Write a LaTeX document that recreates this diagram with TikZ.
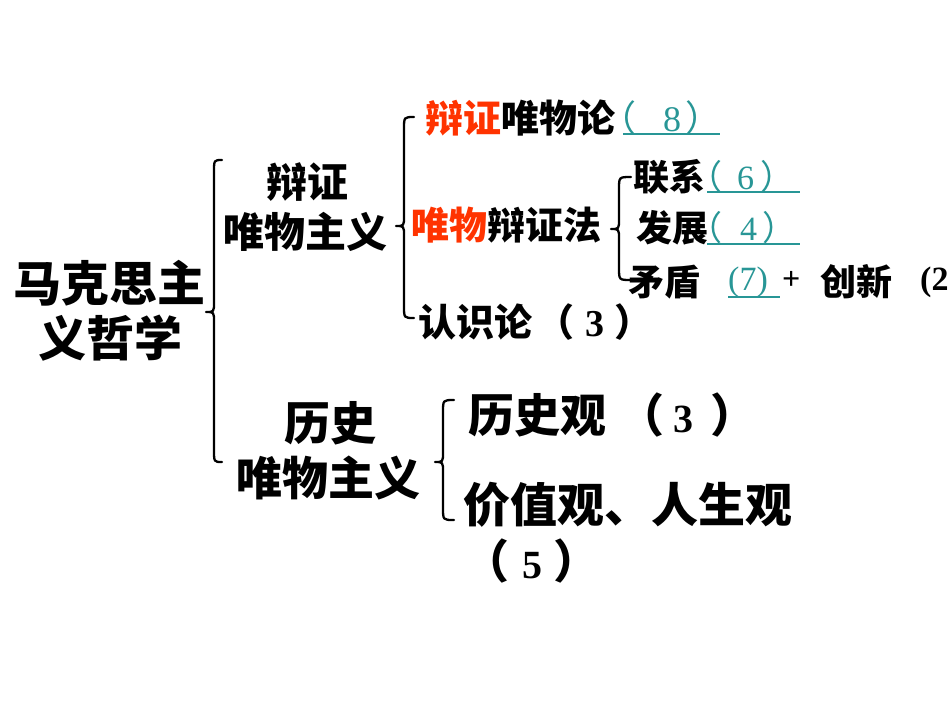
\documentclass[tikz,border=0pt]{standalone}
\usepackage{fontspec}
\newfontfamily\cjk{Noto Sans CJK SC}
\newfontfamily\ser{Liberation Serif}
\definecolor{hot}{RGB}{255,51,0}
\definecolor{tealc}{RGB}{40,150,150}
\newcommand\fsz[1]{\fontsize{#1}{#1}\selectfont}
\tikzset{
  txt/.style={inner sep=0pt, anchor=west, font=\cjk\bfseries},
  ctxt/.style={inner sep=0pt, anchor=center, font=\cjk\bfseries},
  brace/.style={line width=2.3pt, black, line cap=round, line join=round},
  uline/.style={line width=1.5pt, tealc},
}
\newcommand\bracepath[6]{% xl xm xr ytop ymid ybot
  \draw[brace] (#3,#4) .. controls (#2,#4) .. (#2,#4+12) -- (#2,#5-10)
    .. controls (#2,#5) .. (#1,#5) .. controls (#2,#5) .. (#2,#5+10)
    -- (#2,#6-12) .. controls (#2,#6) .. (#3,#6);}
\begin{document}
\begin{tikzpicture}[x=1pt,y=-1pt]
\useasboundingbox (0,0) rectangle (950,713);
\fill[white] (0,0) rectangle (950,713);

% root
\node[ctxt,font=\cjk\bfseries\fsz{48}] (root1) at (109,283) {马克思主};
\node[ctxt,font=\cjk\bfseries\fsz{48}] (root2) at (110,338) {义哲学};

% level 1
\node[ctxt,font=\cjk\bfseries\fsz{41}] (dm1) at (307,182) {辩证};
\node[ctxt,font=\cjk\bfseries\fsz{41}] (dm2) at (305,232) {唯物主义};
\node[ctxt,font=\cjk\bfseries\fsz{46}] (hm1) at (330,423) {历史};
\node[ctxt,font=\cjk\bfseries\fsz{46}] (hm2) at (328,478) {唯物主义};

% level 2 (dialectical)
\node[txt,font=\cjk\bfseries\fsz{38}] (dwl) at (425,118) {\textcolor{hot}{辩证}唯物论};
\node[txt,font=\cjk\fsz{36},text=tealc] (n8) at (600,118) {（\hspace{27pt}{\ser 8}\hspace{4pt}）};
\node[txt,font=\cjk\bfseries\fsz{38}] (wbz) at (411,225) {\textcolor{hot}{唯物}辩证法};
\node[txt,font=\cjk\bfseries\fsz{38}] (rsl) at (418,322) {认识论\hspace{4pt}（\hspace{11pt}{\ser\bfseries 3}\hspace{10pt}）};

% level 3
\node[txt,font=\cjk\bfseries\fsz{36}] (lx) at (633,177) {联系};
\node[txt,font=\cjk\fsz{34},text=tealc] (n6) at (688,177) {（\hspace{15pt}{\ser 6}\hspace{6pt}）};
\node[txt,font=\cjk\bfseries\fsz{36}] (fz) at (636,228) {发展};
\node[txt,font=\cjk\fsz{34},text=tealc] (n4) at (688,228) {（\hspace{18pt}{\ser 4}\hspace{5pt}）};
\node[txt,font=\cjk\bfseries\fsz{36}] (md) at (628,282) {矛盾};
\node[txt,font=\ser\fsz{34},text=tealc] (n7) at (728,282) {(7)};
\node[txt,font=\ser\bfseries\fsz{32}] (plus) at (782,280) {+};
\node[txt,font=\cjk\bfseries\fsz{36}] (cx) at (820,282) {创新};
\node[txt,font=\ser\bfseries\fsz{34}] (n2) at (920,282) {(2};

% level 2 (historical)
\node[txt,font=\cjk\bfseries\fsz{46}] (lsg) at (468,415) {历史观\hspace{12pt}（\hspace{9pt}{\ser\bfseries\fsz{40}3}\hspace{17pt}）};
\node[txt,font=\cjk\bfseries\fsz{47}] (jzg) at (463,505) {价值观、人生观};
\node[txt,font=\cjk\bfseries\fsz{46}] (n5) at (463,561) {（\hspace{13pt}{\ser\bfseries\fsz{40}5}\hspace{11pt}）};

% underlines
\draw[uline] (623,134) -- (720,134);
\draw[uline] (707,192) -- (800,192);
\draw[uline] (707,244) -- (800,244);
\draw[uline] (728,297) -- (780,297);

% braces
\bracepath{206}{214}{222}{160}{312}{462}
\bracepath{396}{404}{414}{117}{226}{318}
\bracepath{611}{619}{631}{177}{229}{280}
\bracepath{435}{443}{454}{400}{462}{520}
\end{tikzpicture}
\end{document}
